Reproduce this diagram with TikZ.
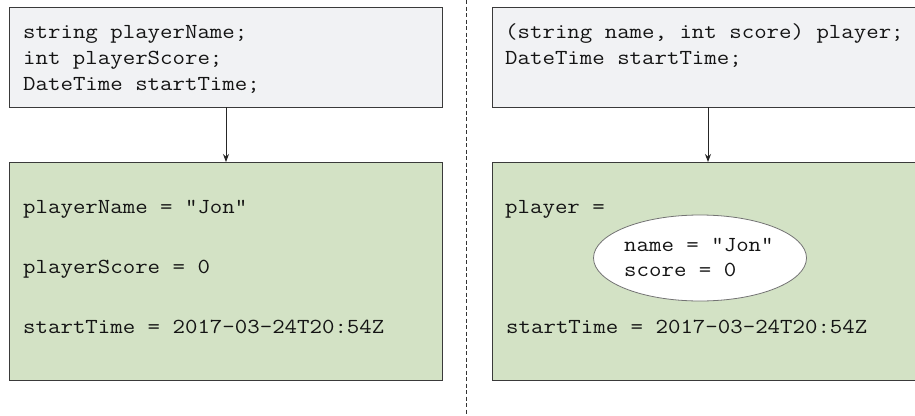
\documentclass[tikz,border=0pt]{standalone}
\usepackage{fontspec}
\setmonofont{Latin Modern Mono}[FakeStretch=1.13]
\usetikzlibrary{arrows.meta,shapes.geometric}
\definecolor{declgray}{HTML}{F1F2F4}
\definecolor{valgreen}{HTML}{D3E2C5}
\definecolor{edge}{HTML}{3A3A3A}
\tikzset{
  declbox/.style={draw=edge, line width=1pt, fill=declgray, rectangle, inner sep=0pt, anchor=north west},
  valbox/.style={draw=edge, line width=1pt, fill=valgreen, rectangle, inner sep=0pt, anchor=north west},
  code/.style={font=\ttfamily\fontsize{21.4}{26}\selectfont, inner sep=0pt, anchor=base west, text=black!92},
  conn/.style={draw=black!85, line width=0.9pt, -{Stealth[length=8pt,width=6pt]}},
  tuple/.style={ellipse, draw=black!55, line width=0.8pt, fill=white, minimum width=213pt, minimum height=86pt, inner sep=0pt},
}
\begin{document}
\begin{tikzpicture}[x=1pt,y=-1pt]
\useasboundingbox (0,0) rectangle (915,415);
\clip (0,0) rectangle (915,415);
\fill[white] (0,0) rectangle (915,415);
% left side
\node[declbox, minimum width=433pt, minimum height=100pt] (ltop) at (9,7) {};
\node[valbox, minimum width=433pt, minimum height=218pt] (lbot) at (9,162) {};
\node[code] (l1) at (23,38) {string playerName;};
\node[code] (l2) at (23,64) {int playerScore;};
\node[code] (l3) at (23,90) {DateTime startTime;};
\node[code] (l4) at (23,213) {playerName = "Jon"};
\node[code] (l5) at (23,273) {playerScore = 0};
\node[code] (l6) at (23,333) {startTime = 2017-03-24T20:54Z};
\coordinate (la) at (226,107);
\coordinate (lb) at (226,162);
\draw[conn] (la) -- (lb);
% divider
\coordinate (d1) at (466,0);
\coordinate (d2) at (466,415);
\draw[black!80, line width=0.9pt, dash pattern=on 4pt off 2.5pt] (d1) -- (d2);
% right side
\node[declbox, minimum width=440pt, minimum height=100pt] (rtop) at (492,7) {};
\node[valbox, minimum width=440pt, minimum height=218pt] (rbot) at (492,162) {};
\node[code] (r1) at (505,38) {(string name, int score) player;};
\node[code] (r2) at (505,64) {DateTime startTime;};
\node[code] (r3) at (505,213) {player =};
\node[tuple] (ell) at (700,258) {};
\node[code] (r4) at (624,251) {name = "Jon"};
\node[code] (r5) at (624,276) {score = 0};
\node[code] (r6) at (506,333) {startTime = 2017-03-24T20:54Z};
\coordinate (ra) at (708,107);
\coordinate (rb) at (708,162);
\draw[conn] (ra) -- (rb);
\end{tikzpicture}
\end{document}
